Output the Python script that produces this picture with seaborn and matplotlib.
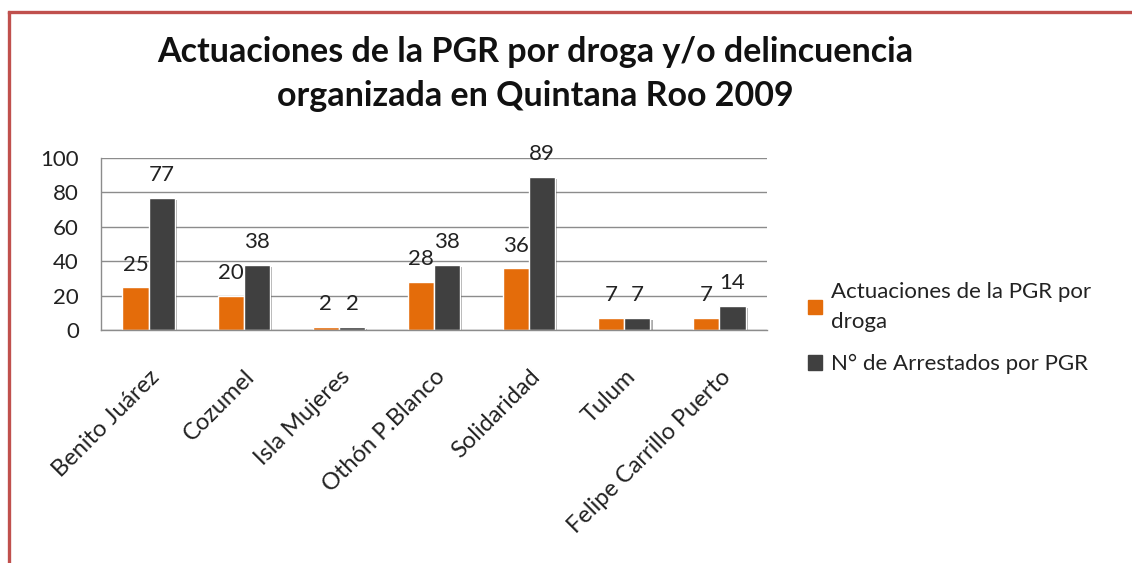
import matplotlib
matplotlib.use("Agg")
import matplotlib.pyplot as plt
import matplotlib.patheffects as pe
from matplotlib.lines import Line2D
import seaborn as sns
import pandas as pd

# data
municipios = ['Benito Juárez', 'Cozumel', 'Isla Mujeres', 'Othón P.Blanco',
              'Solidaridad', 'Tulum', 'Felipe Carrillo Puerto']
actuaciones = [25, 20, 2, 28, 36, 7, 7]
arrestados = [77, 38, 2, 38, 89, 7, 14]
serie1 = 'Actuaciones de la PGR por\ndroga'
serie2 = 'N° de Arrestados por PGR'
titulo = 'Actuaciones de la PGR por droga y/o delincuencia\norganizada en Quintana Roo 2009'
yticks = [0, 20, 40, 60, 80, 100]

df = pd.DataFrame({
    'municipio': municipios * 2,
    'valor': actuaciones + arrestados,
    'serie': [serie1] * len(municipios) + [serie2] * len(municipios),
})

sns.set_style('white')
plt.rcParams['font.family'] = ['Lato', 'DejaVu Sans']

fig = plt.figure(figsize=(11.32, 5.63), dpi=100)
ax = fig.add_axes([101 / 1132, 1 - 330 / 563, (767 - 101) / 1132, (330 - 158) / 563])

sns.barplot(data=df, x='municipio', y='valor', hue='serie', ax=ax,
            palette={serie1: '#E46C0A', serie2: '#404040'},
            width=0.55, gap=0, saturation=1, legend=False)

for bar in ax.patches:
    bar.set_path_effects([pe.SimplePatchShadow(offset=(1.5, -1.5), alpha=0.35), pe.Normal()])

for cont in ax.containers:
    ax.bar_label(cont, fmt='%d', padding=9, fontsize=16, color='#222222')

ax.set_ylim(0, 100)
ax.set_yticks(yticks)
ax.set_yticklabels([str(t) for t in yticks], fontsize=16, color='#222222')
ax.tick_params(axis='y', length=0, pad=16)
ax.tick_params(axis='x', length=0, pad=26)
ax.set_xticks(range(len(municipios)))
ax.set_xticklabels(municipios, rotation=45, ha='right', rotation_mode='anchor',
                   fontsize=17, color='#222222')
ax.set_xlabel('')
ax.set_ylabel('')
ax.yaxis.grid(True, color='#8c8c8c', linewidth=1)
ax.set_axisbelow(True)
for s in ['top', 'right']:
    ax.spines[s].set_visible(False)
for s in ['left', 'bottom']:
    ax.spines[s].set_color('#8c8c8c')
    ax.spines[s].set_linewidth(1)

fig.text(535 / 1132, 1 - 74 / 563, titulo, ha='center', va='center',
         fontsize=24.5, fontweight='bold', color='#111111', linespacing=1.45)

handles = [plt.Rectangle((0, 0), 1, 1, color='#E46C0A'),
           plt.Rectangle((0, 0), 1, 1, color='#404040')]
leg = fig.legend(handles, [serie1, serie2], loc='upper left',
                 bbox_to_anchor=(788 / 1132, 1 - 262 / 563), frameon=False,
                 fontsize=16, handlelength=0.65, handleheight=0.65,
                 handletextpad=0.4, labelspacing=1.0, labelcolor='#222222')
for t in leg.get_texts():
    t.set_linespacing(1.6)

# red frame of the slide
fig.add_artist(Line2D([8.5 / 1132, 8.5 / 1132], [0, 1 - 11.5 / 563],
                      transform=fig.transFigure, color='#C0504D', linewidth=2.4))
fig.add_artist(Line2D([8.5 / 1132, 1], [1 - 11.5 / 563, 1 - 11.5 / 563],
                      transform=fig.transFigure, color='#C0504D', linewidth=2.4,
                      solid_capstyle='projecting'))

fig.savefig('out.png', dpi=100, facecolor='white')
